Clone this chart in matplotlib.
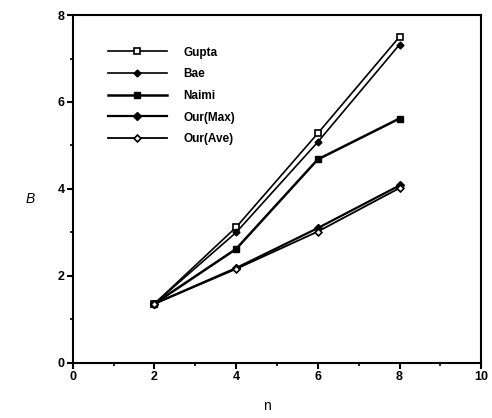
import matplotlib
matplotlib.use("Agg")
import matplotlib.pyplot as plt
from matplotlib.ticker import MultipleLocator

n_values = [2, 4, 6, 8]
gupta = [1.36, 3.12, 5.28, 7.50]
bae = [1.36, 3.00, 5.08, 7.32]
naimi = [1.36, 2.62, 4.68, 5.62]
our_max = [1.36, 2.18, 3.10, 4.08]
our_ave = [1.36, 2.16, 3.02, 4.02]

plt.rcParams["font.family"] = ["Liberation Sans", "DejaVu Sans"]
plt.rcParams["font.weight"] = "bold"

fig = plt.figure(figsize=(4.92, 4.18), dpi=100)
ax = fig.add_axes([0.148, 0.132, 0.83, 0.832])

ax.plot(n_values, gupta, color="black", lw=1.2, marker="s", ms=4,
        mfc="white", mec="black", mew=1.2, label="Gupta")
ax.plot(n_values, bae, color="black", lw=1.2, marker="D", ms=3.5,
        mfc="black", mec="black", label="Bae")
ax.plot(n_values, naimi, color="black", lw=1.8, marker="s", ms=5,
        mfc="black", mec="black", label="Naimi")
ax.plot(n_values, our_max, color="black", lw=1.6, marker="D", ms=4.5,
        mfc="black", mec="black", label="Our(Max)")
ax.plot(n_values, our_ave, color="black", lw=1.3, marker="D", ms=3.5,
        mfc="white", mec="black", mew=1.2, label="Our(Ave)")

ax.set_xlim(0, 10)
ax.set_ylim(0, 8)
ax.xaxis.set_major_locator(MultipleLocator(2))
ax.xaxis.set_minor_locator(MultipleLocator(1))
ax.yaxis.set_major_locator(MultipleLocator(2))
ax.yaxis.set_minor_locator(MultipleLocator(1))
ax.tick_params(which="major", direction="out", length=4, width=1.5,
               labelsize=9, pad=2)
ax.tick_params(which="minor", direction="out", length=2.5, width=1.2)
for spine in ax.spines.values():
    spine.set_linewidth(1.5)

ax.set_xlabel("n", fontsize=10, va="center")
ax.xaxis.set_label_coords(0.475, -0.125)
ax.set_ylabel("B", fontsize=10, rotation=0, style="italic", va="center")
ax.yaxis.set_label_coords(-0.105, 0.47)

ax.legend(loc="upper left", bbox_to_anchor=(0.06, 0.94), frameon=False,
          fontsize=8.5, handlelength=5.0, handletextpad=1.4, labelspacing=0.82)

fig.savefig("out.png", dpi=100)
